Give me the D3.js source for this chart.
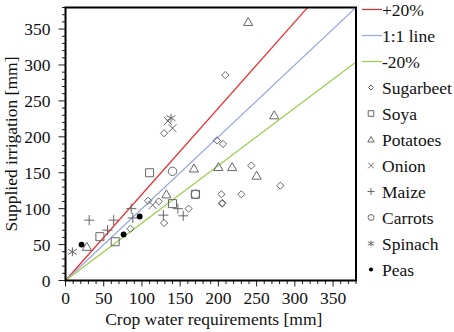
<!DOCTYPE html>
<html>
<head>
<meta charset="utf-8">
<script src="https://cdn.jsdelivr.net/npm/d3@7"></script>
<style>
  body { margin: 0; background: #fff; }
  svg text { font-family: "Liberation Serif", "Times New Roman", serif; fill: #111; }
</style>
</head>
<body>
<svg id="chart" width="454" height="332"></svg>
<script>
// data (x = crop water requirements, y = supplied irrigation, mm)
const sugarbeet = [[85,72],[108,111],[122,110],[129,80],[161,100],[129,205],[198,195],[206,190],[209,286],[204,120],[230,120],[205,107],[205,108],[243,160],[281,132]];
const soya = [[45,61],[65,54],[110,150],[140,107],[170,120]];
const potatoes = [[28,47],[132,120],[168,156],[200,158],[218,158],[250,146],[273,230],[239,360]];
const onion = [[114,105],[134,222],[140,212]];
const maize = [[31,84],[55,70],[63,84],[86,100],[88,87],[128,91],[147,100],[154,90]];
const carrots = [[140,152],[170,120]];
const spinach = [[9,40],[138,226]];
const peas = [[21,50],[76,64],[97,89]];

const crops = ['Sugarbeet', 'Soya', 'Potatoes', 'Onion', 'Maize', 'Carrots', 'Spinach', 'Peas'];
const cropData = [sugarbeet, soya, potatoes, onion, maize, carrots, spinach, peas];
const cropShapes = ['diamond', 'square', 'triangle', 'cross', 'plus', 'circle', 'star', 'dot'];

const refLines = ['+20%', '1:1 line', '-20%'];
const refSlopes = [1.2, 1, 0.8];
const refColors = ['#f0262a', '#97a7de', '#9acd4a'];

const xTicks = [0, 50, 100, 150, 200, 250, 300, 350];
const yTicks = [0, 50, 100, 150, 200, 250, 300, 350];
const axisMax = 380;

const svg = d3.select('#chart');
const margin = {left: 65.5, right: 98, top: 7.5, bottom: 51.5};
const W = 454, H = 332;

const x = d3.scaleLinear().domain([0, axisMax]).range([margin.left, W - margin.right]);
const y = d3.scaleLinear().domain([0, axisMax]).range([H - margin.bottom, margin.top]);

// marker path builder, s = half size
function shapePath(shape, s) {
  switch (shape) {
    case 'diamond': return `M0,${-s}L${s},0L0,${s}L${-s},0Z`;
    case 'square': return `M${-s},${-s}H${s}V${s}H${-s}Z`;
    case 'triangle': return `M0,${-s * 1.05}L${s * 1.1},${s * 0.85}L${-s * 1.1},${s * 0.85}Z`;
    case 'cross': return `M${-s},${-s}L${s},${s}M${-s},${s}L${s},${-s}`;
    case 'plus': return `M${-s * 1.2},0H${s * 1.2}M0,${-s * 1.2}V${s * 1.2}`;
    case 'star': return `M${-s},${-s * 0.6}L${s},${s * 0.6}M${-s},${s * 0.6}L${s},${-s * 0.6}M0,${-s}V${s}`;
    case 'circle': return d3.arc()({innerRadius: 0, outerRadius: s, startAngle: 0, endAngle: 2 * Math.PI});
    case 'dot': return d3.arc()({innerRadius: 0, outerRadius: s * 0.7, startAngle: 0, endAngle: 2 * Math.PI});
  }
}
const markerSize = {diamond: 3.6, square: 4, triangle: 4.2, cross: 4, plus: 4.2, circle: 4.2, star: 4.4, dot: 4.2};

// reference lines, clipped to the plot
svg.append('clipPath').attr('id', 'clip')
  .append('rect')
  .attr('x', x(0)).attr('y', y(axisMax))
  .attr('width', x(axisMax) - x(0)).attr('height', y(0) - y(axisMax));

const lineG = svg.append('g').attr('clip-path', 'url(#clip)');
refSlopes.forEach((k, i) => {
  lineG.append('line')
    .attr('x1', x(0)).attr('y1', y(0))
    .attr('x2', x(axisMax)).attr('y2', y(axisMax * k))
    .attr('stroke', refColors[i]).attr('stroke-width', 1.2);
});

// points
cropData.forEach((pts, i) => {
  const shape = cropShapes[i];
  svg.append('g').selectAll('path')
    .data(pts)
    .join('path')
    .attr('transform', d => `translate(${x(d[0])},${y(d[1])})`)
    .attr('d', shapePath(shape, markerSize[shape]))
    .attr('fill', shape === 'dot' ? '#000' : 'none')
    .attr('stroke', shape === 'dot' ? 'none' : '#666')
    .attr('stroke-width', 1);
});

// axes
const minor = d3.range(0, axisMax + 1, 10);

const xAxis = svg.append('g').attr('transform', `translate(0,${y(0)})`);
xAxis.selectAll('line.minor').data(minor).join('line')
  .attr('x1', d => x(d)).attr('x2', d => x(d))
  .attr('y1', 0).attr('y2', d => d % 50 === 0 ? 6 : 3.5)
  .attr('stroke', '#222').attr('stroke-width', 1);
xAxis.selectAll('text').data(xTicks).join('text')
  .attr('x', d => x(d)).attr('y', 23)
  .attr('text-anchor', 'middle')
  .style('font-size', '17.5px')
  .text(d => d);

const yAxis = svg.append('g').attr('transform', `translate(${x(0)},0)`);
yAxis.selectAll('line.minor').data(minor).join('line')
  .attr('y1', d => y(d)).attr('y2', d => y(d))
  .attr('x1', 0).attr('x2', d => d % 50 === 0 ? -7 : -3.5)
  .attr('stroke', '#222').attr('stroke-width', 1);
yAxis.selectAll('text').data(yTicks).join('text')
  .attr('x', -15).attr('y', d => y(d) + 6)
  .attr('text-anchor', 'end')
  .style('font-size', '17.5px')
  .text(d => d);

// frame
svg.append('rect')
  .attr('x', x(0)).attr('y', y(axisMax))
  .attr('width', x(axisMax) - x(0)).attr('height', y(0) - y(axisMax))
  .attr('fill', 'none').attr('stroke', '#000').attr('stroke-width', 2);

// axis titles
svg.append('text')
  .attr('x', (x(0) + x(axisMax)) / 2 + 3).attr('y', 325)
  .attr('text-anchor', 'middle')
  .style('font-size', '17.5px')
  .text('Crop water requirements [mm]');

svg.append('text')
  .attr('transform', `translate(17,${(y(0) + y(axisMax)) / 2}) rotate(-90)`)
  .attr('text-anchor', 'middle')
  .style('font-size', '17.5px')
  .text('Supplied irrigation [mm]');

// legend
const legend = svg.append('g');
const legY = i => 9.5 + i * 26;

refLines.forEach((name, i) => {
  legend.append('line')
    .attr('x1', 362).attr('x2', 382)
    .attr('y1', legY(i)).attr('y2', legY(i))
    .attr('stroke', refColors[i]).attr('stroke-width', 1.2);
  legend.append('text')
    .attr('x', 382).attr('y', legY(i) + 6)
    .style('font-size', '17.5px')
    .text(name);
});

crops.forEach((name, i) => {
  const shape = cropShapes[i];
  const yy = legY(i + 3);
  legend.append('path')
    .attr('transform', `translate(371,${yy})`)
    .attr('d', shapePath(shape, markerSize[shape] * 0.7))
    .attr('fill', shape === 'dot' ? '#000' : 'none')
    .attr('stroke', shape === 'dot' ? 'none' : '#666')
    .attr('stroke-width', 1);
  legend.append('text')
    .attr('x', 382).attr('y', yy + 6)
    .style('font-size', '17.5px')
    .text(name);
});
</script>
</body>
</html>
